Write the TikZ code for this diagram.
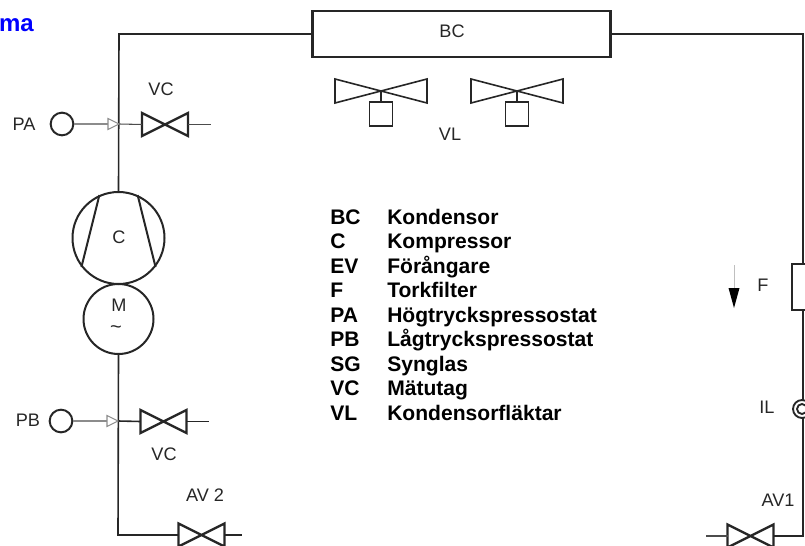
\documentclass[tikz,border=0pt]{standalone}
\usepackage{fontspec}
\setmainfont{Liberation Sans}
\tikzset{
  pipe/.style={line width=1.2pt, black!85},
  thin pipe/.style={line width=0.8pt, black!45},
  label text/.style={inner sep=0pt, font=\fontsize{13.6}{16}\selectfont, black!85},
  legend text/.style={inner sep=0pt, anchor=base west, font=\fontsize{15.8}{18}\selectfont\bfseries},
  gauge/.style={circle, draw, line width=1.5pt, minimum size=17pt, inner sep=0pt},
  valve/.pic={
    \draw[line width=1.7pt, black!85, line join=miter] (-23,-11.5) -- (23,11.5) -- (23,-11.5) -- (-23,11.5) -- cycle;
    \coordinate (-l) at (-23,0);
    \coordinate (-r) at (23,0);
  },
  fan/.pic={
    \draw[line width=1.2pt, black!85] (-46,-12) -- (46,12) -- (46,-12) -- (-46,12) -- cycle;
    \draw[line width=1.2pt, black!85] (0,0) -- (0,11);
    \draw[line width=1.2pt, black!85] (-11.5,11) rectangle (11.5,35);
  },
}
\begin{document}
\begin{tikzpicture}[x=0.75pt, y=-0.75pt]
  \useasboundingbox (0,0) rectangle (805,545);

  % Title rest
  \node[inner sep=0pt, anchor=base east, text=blue, font=\fontsize{18}{20}\selectfont\bfseries] (title) at (34,32) {ma};

  % Condenser
  \node[draw, pipe, line width=1.6pt, minimum width=223.5pt, minimum height=34.5pt, inner sep=0pt] (bc) at (461.5,34) {};
  \node[label text] (bclabel) at (452,31) {BC};

  % Fans
  \pic (fan1) at (381,91) {fan};
  \pic (fan2) at (517,91) {fan};
  \node[label text] (vl) at (450,134) {VL};

  % Compressor and motor
  \node[circle, draw, pipe, line width=1.5pt, minimum size=69pt, inner sep=0pt] (c) at (118.5,238) {};
  \node[circle, draw, pipe, line width=1.5pt, minimum size=52.5pt, inner sep=0pt] (m) at (118.5,319) {};
  \draw[pipe, line width=1.5pt] (c.114) -- (c.218);
  \draw[pipe, line width=1.5pt] (c.66) -- (c.322);
  \node[label text] (clabel) at (119,237) {C};
  \node[label text] (mlabel) at (119,305) {M};
  \node[label text, font=\fontsize{15}{16}\selectfont] (mtilde) at (116,330) {\char"007E};

  % Corners and tees
  \coordinate (topleft) at (119,34);
  \coordinate (teepa) at (119,124);
  \coordinate (teepb) at (118,421);
  \coordinate (botleft) at (118,535);
  \coordinate (topright) at (803,34);
  \coordinate (botright) at (803,536);

  % Valves
  \pic (vca) at (165,124.5) {valve};
  \pic (vcb) at (163.5,421.5) {valve};
  \pic (avtwo) at (201.5,535) {valve};
  \pic (avone) at (750.5,536) {valve};
  \coordinate (vcaend) at (211,124.5);
  \coordinate (vcbend) at (209,421.5);
  \coordinate (avtwoend) at (242,535);
  \coordinate (avoneend) at (706,536);

  % Pressure switches
  \node[gauge, pipe, line width=1.5pt] (pa) at (62,124) {};
  \node[gauge, pipe, line width=1.5pt] (pb) at (61,421) {};
  \coordinate (paarrow) at (108,124);
  \coordinate (pbarrow) at (107,421);
  \draw[thin pipe] (pa) -- (paarrow);
  \draw[thin pipe] (pb) -- (pbarrow);

  % Pipes
  \draw[pipe] (c.north) -- (topleft) -- (bc.west);
  \draw[pipe] (bc.east) -- (topright) -- (topright |- 0,263);
  \draw[pipe] (topright |- 0,309) -- (botright) -- (avone-r);
  \draw[pipe] (m.south) -- (botleft) -- (avtwo-l);
  \draw[thin pipe, black!70] (teepa) -- (vca-l);
  \draw[thin pipe, black!70] (vca-r) -- (vcaend);
  \draw[pipe] (teepb) -- (vcb-l);
  \draw[pipe] (vcb-r) -- (vcbend);
  \draw[pipe] (avtwo-r) -- (avtwoend);
  \draw[thin pipe, black!70] (avone-l) -- (avoneend);

  % Tips on the tees
  \draw[thin pipe, fill=white] (paarrow) ++(0,-5.5) -- (teepa) -- (paarrow |- 0,129.5) -- cycle;
  \draw[thin pipe, fill=white] (pbarrow) ++(0,-5.5) -- (teepb) -- (pbarrow |- 0,426.5) -- cycle;

  \node[label text] (palabel) at (24,124) {PA};
  \node[label text] (pblabel) at (28,420) {PB};
  \node[label text] (vcalabel) at (161,89) {VC};
  \node[label text] (vcblabel) at (164,454) {VC};
  \node[label text] (avtwolabel) at (205,495) {AV 2};
  \node[label text] (avonelabel) at (778,500) {AV1};

  % Filter and sight glass
  \node[draw, pipe, line width=1.6pt, minimum width=22.5pt, minimum height=34.5pt, inner sep=0pt, anchor=north west] (f) at (791,263) {};
  \node[label text] (flabel) at (763,285) {F};
  \node[circle, draw, pipe, line width=1.4pt, minimum size=13.5pt, inner sep=0pt, fill=white] (il) at (802,409) {};
  \node[circle, draw, pipe, line width=1.4pt, minimum size=7.5pt, inner sep=0pt] (ilinner) at (802,409) {};
  \node[label text] (illabel) at (767,407) {IL};

  % Flow arrow
  \coordinate (flowtop) at (734,265);
  \coordinate (flowhead) at (734,288);
  \coordinate (flowtip) at (734,308);
  \draw[line width=0.5pt, black!25] (flowtop) -- (flowhead);
  \fill (728.5,288) -- (739.5,288) -- (flowtip) -- cycle;

  % Legend
  \foreach \row/\code/\word in {0/BC/Kondensor, 1/C/Kompressor, 2/EV/Förångare, 3/F/Torkfilter,
    4/PA/Högtryckspressostat, 5/PB/Lågtryckspressostat, 6/SG/Synglas, 7/VC/Mätutag, 8/VL/Kondensorfläktar} {
    \node[legend text] (code\row) at (330,{224+24.5*\row}) {\code};
    \node[legend text] (word\row) at (387,{224+24.5*\row}) {\word};
  }
\end{tikzpicture}
\end{document}
